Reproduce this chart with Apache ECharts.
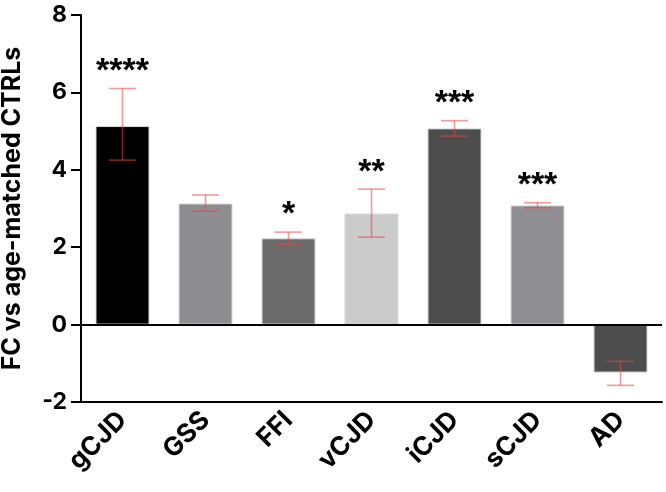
<!DOCTYPE html>
<html><head><meta charset="utf-8">
<script src="https://cdn.jsdelivr.net/npm/echarts@6/dist/echarts.min.js"></script>
<style>html,body{margin:0;padding:0;background:#fff}#c{width:666px;height:492px}</style>
</head><body><div id="c"></div>
<script>
const categories = ["gCJD","GSS","FFI","vCJD","iCJD","sCJD","AD"];
const values = [5.13, 3.13, 2.23, 2.87, 5.07, 3.08, -1.24];
const errLow = [4.25, 2.93, 2.07, 2.26, 4.87, 3.02, -1.57];
const errHigh = [6.10, 3.35, 2.39, 3.50, 5.27, 3.15, -0.95];
const signif = ["****", "", "*", "**", "***", "***", ""];
const barColors = ["#000000","#8e8e92","#6b6b6b","#cbcbcb","#4d4d4d","#8f8f93","#4d4d4d"];
const yTicks = [-2, 0, 2, 4, 6, 8];

const chart = echarts.init(document.getElementById('c'), null, {renderer:'canvas'});
const FONT = 'Inter, Liberation Sans, Arial, sans-serif';
const SFONT = 'Liberation Sans, Arial, sans-serif';
chart.setOption({
  animation:false,
  grid:{left:81, right:4, top:15, bottom:90, containLabel:false, outerBoundsMode:'none'},
  xAxis:{
    type:'category', data:categories,
    axisLine:{onZero:false, lineStyle:{color:'#000', width:2}},
    axisTick:{alignWithLabel:true, length:10, lineStyle:{color:'#000', width:2}},
    axisLabel:{rotate:45, margin:14, color:'#000', fontSize:26, fontWeight:'bold', fontFamily:FONT, interval:0}
  },
  yAxis:{
    type:'value', min:yTicks[0], max:yTicks[yTicks.length-1], interval:2,
    name:'FC vs age-matched CTRLs', nameLocation:'middle', nameGap:56,
    nameTextStyle:{color:'#000', fontSize:25, fontWeight:'bold', fontFamily:FONT},
    axisLine:{show:true, lineStyle:{color:'#000', width:2}},
    axisTick:{show:true, length:10, lineStyle:{color:'#000', width:2}},
    axisLabel:{color:'#000', fontSize:23, fontWeight:'bold', fontFamily:FONT, margin:14},
    splitLine:{show:false}
  },
  series:[
    {
      type:'bar', barWidth:54,
      data: values.map((v,i)=>({value:v, itemStyle:{color:barColors[i]}})),
      itemStyle:{borderColor:'#d8d8d8', borderWidth:1},
      markLine:{silent:true, symbol:'none', label:{show:false},
        lineStyle:{color:'#000', width:2, type:'solid'},
        data:[{yAxis:0}]}
    },
    {
      type:'custom', z:5,
      data: categories.map((c,i)=>[i, errLow[i], errHigh[i]]),
      renderItem:function(params, api){
        const x = api.value(0);
        const lo = api.coord([x, api.value(1)]);
        const hi = api.coord([x, api.value(2)]);
        const hw = 13.5;
        const st = {stroke:'rgba(235,70,70,0.55)', lineWidth:1.6};
        return {type:'group', children:[
          {type:'line', shape:{x1:lo[0], y1:lo[1], x2:hi[0], y2:hi[1]}, style:st},
          {type:'line', shape:{x1:lo[0]-hw, y1:lo[1], x2:lo[0]+hw, y2:lo[1]}, style:st},
          {type:'line', shape:{x1:hi[0]-hw, y1:hi[1], x2:hi[0]+hw, y2:hi[1]}, style:st}
        ]};
      }
    },
    {
      type:'custom', z:6,
      data: categories.map((c,i)=>[i, errHigh[i]]),
      renderItem:function(params, api){
        const i = params.dataIndex;
        const p = api.coord([api.value(0), api.value(1)]);
        return {type:'text', style:{text:signif[i], x:p[0], y:p[1],
          align:'center', verticalAlign:'bottom', fill:'#000',
          font:'bold 34px '+SFONT}};
      }
    }
  ]
});
</script></body></html>
